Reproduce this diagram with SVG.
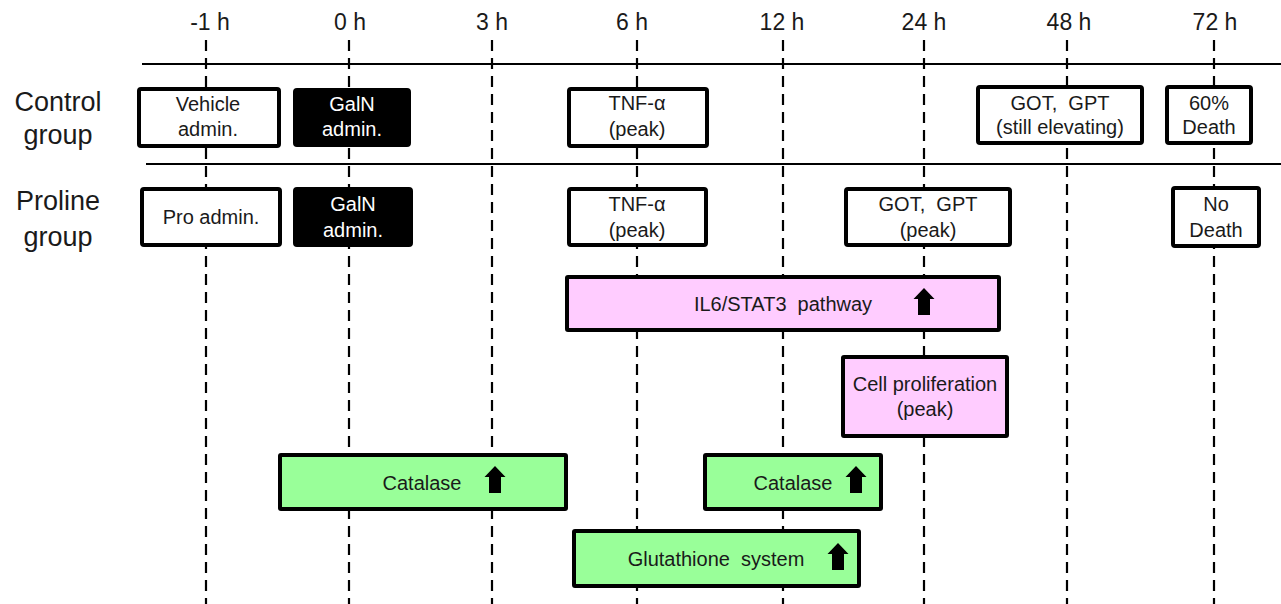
<svg xmlns="http://www.w3.org/2000/svg" width="1281" height="604" viewBox="0 0 1281 604">
<style>
text{font-family:"Liberation Sans",Arial,sans-serif;fill:#1a1a1a;white-space:pre}
.ax{font-size:23px;text-anchor:middle}
.grp{font-size:27px;text-anchor:middle}
.t{font-size:20px;text-anchor:middle}
.w{fill:#ffffff}
.dash{stroke:#000;stroke-width:2.2;stroke-dasharray:11 7;fill:none}
.hl{stroke:#000;stroke-width:1.8}
.box{fill:#fff;stroke:#000;stroke-width:4}
.blk{fill:#000;stroke:#000;stroke-width:2}
.pink{fill:#FFCCFF;stroke:#000;stroke-width:4}
.green{fill:#99FF99;stroke:#000;stroke-width:4}
</style>
<defs>
<path id="up" d="M0,0 L10.5,11 L6,11 L6,27 L-6,27 L-6,11 L-10.5,11 Z" fill="#000"/>
</defs>
<rect width="1281" height="604" fill="#fff"/>
<g id="axis">
<text class="ax" x="210" y="30">-1 h</text>
<text class="ax" x="350" y="30">0 h</text>
<text class="ax" x="492" y="30">3 h</text>
<text class="ax" x="632" y="30">6 h</text>
<text class="ax" x="782" y="30">12 h</text>
<text class="ax" x="924" y="30">24 h</text>
<text class="ax" x="1069" y="30">48 h</text>
<text class="ax" x="1215" y="30">72 h</text>
</g>
<g id="connectors">
<line class="dash" x1="206" y1="40" x2="206" y2="604"/>
<line class="dash" x1="349" y1="40" x2="349" y2="604"/>
<line class="dash" x1="492" y1="40" x2="492" y2="604"/>
<line class="dash" x1="637" y1="40" x2="637" y2="604"/>
<line class="dash" x1="783" y1="40" x2="783" y2="604"/>
<line class="dash" x1="924" y1="40" x2="924" y2="604"/>
<line class="dash" x1="1067" y1="40" x2="1067" y2="604"/>
<line class="dash" x1="1214" y1="40" x2="1214" y2="604"/>
<line class="hl" x1="142" y1="64" x2="1281" y2="64"/>
<line class="hl" x1="146" y1="164" x2="1281" y2="164"/>
</g>
<g id="labels">
<text class="grp" x="58" y="111">Control</text>
<text class="grp" x="58" y="144">group</text>
<text class="grp" x="58" y="210">Proline</text>
<text class="grp" x="58" y="246">group</text>
</g>
<g id="vehicle">
<rect class="box" x="139" y="89" width="140" height="57" rx="2"/>
<text class="t" x="208" y="111">Vehicle</text>
<text class="t" x="208" y="136">admin.</text>
</g>
<g id="galn1">
<rect class="blk" x="294" y="89" width="116" height="57" rx="3"/>
<text class="t w" x="352" y="111">GalN</text>
<text class="t w" x="352" y="136">admin.</text>
</g>
<g id="tnf1">
<rect class="box" x="569" y="89" width="138" height="57" rx="2"/>
<text class="t" x="637" y="110">TNF-α</text>
<text class="t" x="637" y="136">(peak)</text>
</g>
<g id="got1">
<rect class="box" x="978" y="87" width="164" height="56" rx="2"/>
<text class="t" x="1060" y="110">GOT,  GPT</text>
<text class="t" x="1060" y="134">(still elevating)</text>
</g>
<g id="death1">
<rect class="box" x="1167" y="87" width="84" height="56" rx="2"/>
<text class="t" x="1209" y="110">60%</text>
<text class="t" x="1209" y="134">Death</text>
</g>
<g id="pro">
<rect class="box" x="142" y="189" width="138" height="56" rx="2"/>
<text class="t" x="211" y="224">Pro admin.</text>
</g>
<g id="galn2">
<rect class="blk" x="294" y="188" width="118" height="58" rx="3"/>
<text class="t w" x="353" y="211">GalN</text>
<text class="t w" x="353" y="237">admin.</text>
</g>
<g id="tnf2">
<rect class="box" x="569" y="189" width="137" height="56" rx="2"/>
<text class="t" x="637" y="211">TNF-α</text>
<text class="t" x="637" y="237">(peak)</text>
</g>
<g id="got2">
<rect class="box" x="846" y="189" width="164" height="56" rx="2"/>
<text class="t" x="928" y="211">GOT,  GPT</text>
<text class="t" x="928" y="237">(peak)</text>
</g>
<g id="death2">
<rect class="box" x="1173" y="188" width="86" height="58" rx="2"/>
<text class="t" x="1216" y="211">No</text>
<text class="t" x="1216" y="237">Death</text>
</g>
<g id="il6">
<rect class="pink" x="567" y="277" width="432" height="53" rx="1"/>
<text class="t" x="783" y="311">IL6/STAT3  pathway</text>
<use href="#up" x="924" y="288"/>
</g>
<g id="prolif">
<rect class="pink" x="843" y="357" width="164" height="79" rx="1"/>
<text class="t" x="925" y="391">Cell proliferation</text>
<text class="t" x="925" y="416">(peak)</text>
</g>
<g id="catalase1">
<rect class="green" x="280" y="455" width="286" height="54" rx="1"/>
<text class="t" x="422" y="490">Catalase</text>
<use href="#up" x="495" y="466"/>
</g>
<g id="catalase2">
<rect class="green" x="705" y="455" width="176" height="54" rx="1"/>
<text class="t" x="793" y="490">Catalase</text>
<use href="#up" x="856" y="466"/>
</g>
<g id="glutathione">
<rect class="green" x="574" y="531" width="285" height="55" rx="1"/>
<text class="t" x="716" y="566">Glutathione  system</text>
<use href="#up" x="838" y="543"/>
</g>
</svg>
